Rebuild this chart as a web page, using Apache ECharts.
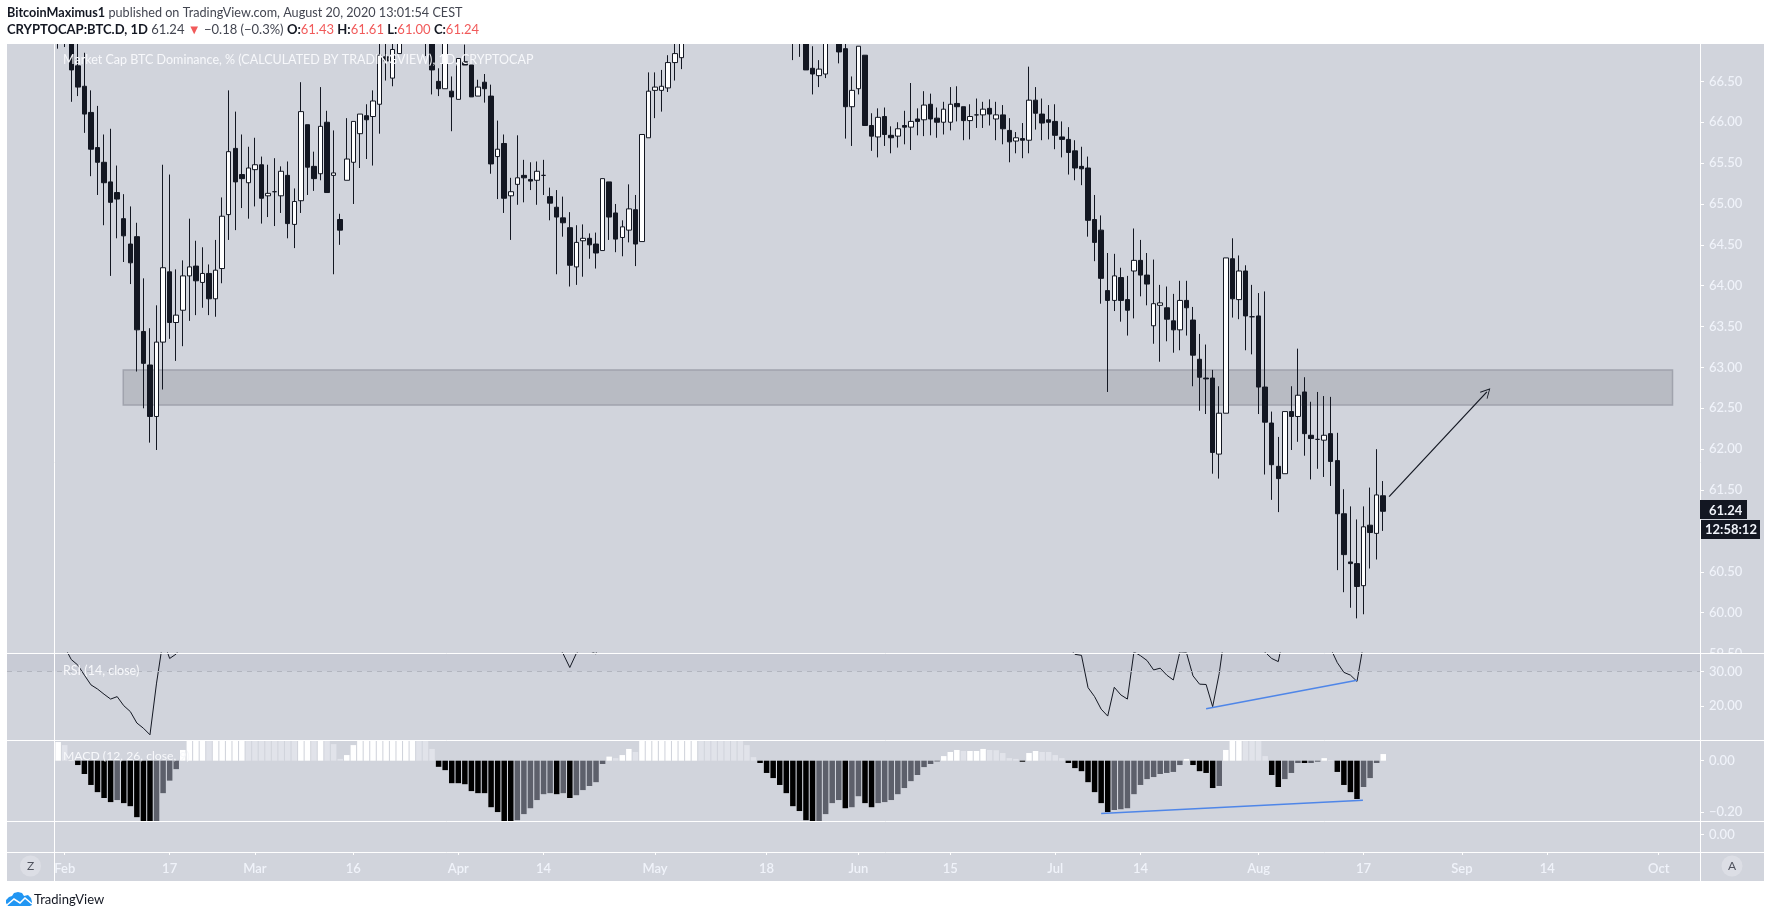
<!DOCTYPE html>
<html>
<head>
<meta charset="utf-8">
<style>html,body{margin:0;padding:0;background:#fff}#c{width:1771px;height:918px}</style>
<script src="https://cdn.jsdelivr.net/npm/echarts@6/dist/echarts.min.js"></script>
</head>
<body>
<div id="c"></div>
<script>
// First row is 31 Jan 2020 (day -1); day 0 is 1 Feb 2020. Rows: open, high, low, close.
const firstDay = -1;
const ohlc = [
[68.0,68.2,66.90,67.6],[67.7,67.9,66.92,67.3],[67.2,67.4,66.25,66.64],[66.69,67.05,66.32,66.43],[66.44,66.85,65.87,66.10],
[66.12,66.39,65.34,65.67],[65.69,66.20,65.11,65.51],[65.51,65.85,64.74,65.26],[65.27,65.92,64.12,65.02],[65.14,65.47,64.58,65.06],
[64.82,65.12,64.29,64.61],[64.51,64.97,64.02,64.28],[64.60,64.77,62.95,63.46],[63.44,64.09,62.50,63.05],[63.03,63.48,62.08,62.40],
[62.40,63.76,61.99,63.31],[63.31,65.48,62.73,64.22],[64.17,65.36,63.35,63.55],[63.55,64.20,63.08,63.64],[63.70,64.31,63.26,64.12],
[64.12,64.82,63.57,64.23],[64.24,64.55,63.64,64.06],[64.04,64.47,63.73,64.15],[64.15,64.26,63.64,63.84],[63.84,64.56,63.62,64.19],
[64.21,65.08,64.03,64.85],[64.87,66.39,64.56,65.64],[65.68,66.13,64.68,65.27],[65.36,65.85,64.95,65.31],[65.26,65.70,64.82,65.44],
[65.42,65.81,64.97,65.48],[65.48,65.58,64.76,65.07],[65.10,65.48,64.84,65.13],[65.15,65.56,64.73,65.15],[65.10,65.46,64.89,65.40],
[65.35,65.52,64.58,64.76],[64.75,65.19,64.46,65.03],[65.04,66.49,64.89,66.13],[65.97,65.97,65.11,65.45],[65.46,65.64,65.16,65.31],
[65.37,66.43,65.29,65.95],[66.00,66.14,65.14,65.14],[65.35,65.90,64.14,65.38],[64.81,64.88,64.50,64.68],[65.29,66.05,65.29,65.55],
[65.51,66.01,65.00,66.01],[65.86,66.10,65.44,66.10],[66.08,66.22,65.55,66.03],[66.07,66.39,65.47,66.26],[66.22,67.10,65.86,66.82],
[66.80,67.10,66.51,66.75],[66.54,67.05,66.44,66.89],[66.84,67.30,66.84,67.20],[67.2,67.9,67.1,67.7],[67.7,68.3,67.5,68.0],
[68.0,68.3,67.4,67.6],[67.6,67.7,66.81,67.2],[67.2,67.3,66.34,66.64],[66.50,66.66,66.32,66.41],[66.41,67.2,66.41,67.1],
[66.38,66.56,65.89,66.31],[66.28,66.78,66.28,66.78],[66.74,66.95,66.70,66.70],[66.70,66.70,66.31,66.31],[66.32,66.52,66.32,66.43],
[66.49,66.59,66.24,66.41],[66.32,66.46,65.37,65.49],[65.58,66.02,65.06,65.67],[65.74,65.85,64.89,65.07],[65.10,65.32,64.56,65.15],
[65.24,65.84,64.99,65.32],[65.35,65.54,65.02,65.32],[65.30,65.51,65.17,65.28],[65.29,65.52,64.99,65.40],[65.35,65.54,65.11,65.35],
[65.09,65.20,64.80,65.01],[64.96,65.17,64.14,64.84],[64.83,65.09,64.60,64.77],[64.71,64.90,63.99,64.25],[64.23,64.74,64.01,64.53],
[64.55,64.75,64.11,64.58],[64.58,64.64,64.33,64.50],[64.51,64.65,64.21,64.40],[64.43,65.31,64.43,65.31],[65.27,65.27,64.56,64.84],
[64.89,65.00,64.41,64.57],[64.59,64.80,64.36,64.72],[64.68,65.24,64.53,64.94],[64.93,65.11,64.24,64.51],[64.54,65.85,64.54,65.85],
[65.81,66.61,65.81,66.38],[66.39,66.61,66.05,66.43],[66.39,66.64,66.13,66.44],[66.42,66.82,66.37,66.73],[66.73,67.0,66.51,66.84],
[66.79,67.15,66.65,67.05],[67.1,67.6,67.0,67.4],[67.4,67.9,67.3,67.7],[67.7,68.1,67.5,67.9],[67.9,68.1,67.4,67.6],
[67.6,68.2,67.5,68.0],[68.0,68.4,67.9,68.2],[68.2,68.4,67.7,67.9],[67.9,68.5,67.8,68.3],[68.3,68.7,68.1,68.5],
[68.5,68.6,68.0,68.2],[68.2,68.4,67.8,68.0],[68.0,68.5,67.9,68.3],[68.3,68.4,67.7,67.9],[67.9,68.0,67.4,67.6],
[67.6,67.8,67.2,67.4],[67.4,67.6,67.1,67.3],[67.3,67.6,66.76,67.4],[67.4,67.5,66.80,67.2],[67.2,67.4,66.64,66.64],
[66.66,66.93,66.34,66.59],[66.57,66.76,66.43,66.65],[66.59,67.2,66.54,67.1],[67.1,67.6,67.0,67.4],[67.3,67.5,66.72,66.86],
[66.90,67.0,65.80,66.19],[66.19,66.56,65.71,66.39],[66.41,66.93,66.34,66.93],[66.82,66.82,65.96,65.96],[65.96,66.11,65.65,65.83],
[65.82,66.17,65.57,66.06],[66.07,66.18,65.71,65.85],[65.84,65.95,65.62,65.81],[65.83,66.00,65.69,65.92],[65.96,66.14,65.73,65.94],
[65.94,66.48,65.66,66.01],[66.04,66.17,65.84,66.01],[66.03,66.38,65.83,66.21],[66.22,66.35,65.84,66.04],[66.05,66.18,65.81,66.00],
[66.00,66.25,65.85,66.16],[66.00,66.43,65.90,66.22],[66.23,66.44,66.01,66.19],[66.19,66.19,65.78,66.02],[66.02,66.22,65.79,66.07],
[66.09,66.29,65.93,66.09],[66.09,66.25,65.93,66.16],[66.17,66.28,65.96,66.10],[66.04,66.25,65.78,66.09],[66.09,66.21,65.73,65.92],
[65.90,66.05,65.51,65.76],[65.77,65.88,65.62,65.81],[65.80,65.99,65.56,65.78],[65.78,66.68,65.62,66.27],[66.27,66.43,65.91,66.11],
[66.10,66.29,65.78,65.99],[66.03,66.21,65.79,66.00],[66.01,66.22,65.67,65.84],[65.82,66.01,65.57,65.79],[65.79,65.94,65.36,65.63],
[65.65,65.78,65.29,65.44],[65.46,65.70,65.23,65.43],[65.44,65.58,64.60,64.80],[64.81,65.11,64.30,64.53],[64.68,64.86,63.78,64.09],
[63.94,64.40,62.70,63.82],[63.82,64.39,63.69,64.12],[64.10,64.22,63.56,63.82],[63.83,64.12,63.39,63.70],[64.18,64.70,63.60,64.31],
[64.31,64.56,63.87,64.13],[64.13,64.40,63.76,64.02],[63.51,64.32,63.29,63.78],[63.76,64.01,63.07,63.79],[63.73,63.99,63.32,63.59],
[63.57,63.90,63.18,63.46],[63.46,64.06,63.21,63.82],[63.82,64.06,63.39,63.73],[63.58,63.74,62.77,63.15],[63.10,63.41,62.47,62.88],
[62.87,63.28,62.43,62.86],[62.87,62.97,61.70,61.96],[61.94,62.77,61.64,62.44],[62.44,64.34,62.44,64.34],[64.33,64.58,63.61,63.84],
[63.83,64.37,63.59,64.18],[64.18,64.25,63.21,63.63],[63.62,64.01,63.16,63.62],[63.63,63.91,62.43,62.76],[62.76,63.93,61.69,62.33],
[62.32,62.46,61.38,61.81],[61.79,62.15,61.23,61.64],[61.70,62.46,61.70,62.46],[62.46,62.77,61.99,62.40],[62.40,63.23,62.09,62.66],
[62.70,62.88,61.92,62.19],[62.17,62.58,61.63,62.13],[62.12,62.70,61.76,62.12],[62.11,62.65,61.66,62.17],[62.19,62.64,61.55,61.85],
[61.86,62.20,60.52,61.21],[61.21,61.51,60.25,60.71],[60.62,61.30,60.06,60.60],[60.60,61.14,59.93,60.32],[60.33,61.30,59.98,61.05],
[61.07,61.53,60.54,60.98],[60.97,62.00,60.65,61.44],[61.43,61.61,61.00,61.24]
];
const rsi = [
40,37,33.4,31.8,28.9,26.1,24.9,23.4,22.0,22.7,
20.1,18.4,15.1,13.6,11.7,26.6,39,33.7,35.0,38,
41,40,42,41,43,47,53,50,49,51,
51,49,49,49,50,47,48,55,52,51,
54,49,48,42,48,52,53,52,54,59,
58,60,62,65,68,64,60,57,55,63,
54,58,60,54,55,54,48,49,44,44,
45,45,44,45,44,42,38,35.0,31.1,35.2,
37,36,35.0,45,41,38,39,42,38,50,
54,55,55,57,58,60,62,64,65,62,
65,67,63,66,68,64,61,63,58,54,
52,51,52,50,45,44,44,52,55,48,
41,44,50,40,39,42,40,40,41,42,
43,43,45,43,43,44,45,45,43,43,
44,44,44,43,42,40,41,41,46,44,
42,42,40,39,37,34.9,34.6,25.3,22.7,19.1,
17.1,25.4,23.2,22.0,35.6,34.5,33.1,30.4,30.9,28.9,
27.5,35.6,35.4,28.7,26.3,26.2,19.8,29.4,43,40,
42,39,39,36.5,35.5,33.7,32.8,42,42,44,
41,41,41,41,36.5,32.5,29.7,28.9,27.1,38,
38,41,40
];
const macd = [
.073,.061,.002,-.017,-.052,-.095,-.123,-.146,-.162,-.154,
-.166,-.178,-.221,-.25,-.25,-.25,-.127,-.078,-.033,.042,
.1,.1,.1,.1,.1,.1,.1,.1,.1,.1,
.1,.1,.1,.1,.1,.1,.1,.1,.1,.1,
.1,.1,.065,.007,.022,.061,.1,.1,.1,.1,
.1,.1,.1,.1,.1,.1,.1,.046,-.024,-.037,
-.088,-.088,-.092,-.119,-.127,-.127,-.182,-.201,-.25,-.25,
-.233,-.209,-.186,-.154,-.131,-.127,-.131,-.127,-.146,-.135,
-.115,-.099,-.084,-.013,.016,.010,.022,.046,.034,.1,
.1,.1,.1,.1,.1,.1,.1,.1,.1,.1,
.1,.1,.1,.1,.1,.061,.014,-.009,-.048,-.068,
-.095,-.127,-.178,-.197,-.233,-.25,-.25,-.209,-.166,-.154,
-.186,-.182,-.139,-.166,-.182,-.166,-.162,-.154,-.131,-.107,
-.080,-.056,-.025,-.013,-.003,.018,.034,.042,.038,.038,
.038,.046,.042,.041,.030,.010,.007,-.004,.030,.038,
.034,.034,.022,.010,-.009,-.029,-.041,-.084,-.123,-.166,
-.201,-.193,-.190,-.186,-.131,-.095,-.072,-.064,-.052,-.048,
-.044,-.017,.007,-.017,-.041,-.048,-.107,-.099,.042,.1,
.1,.1,.1,.1,.018,-.056,-.103,-.072,-.048,-.009,
-.009,-.009,-.004,.010,.003,-.044,-.095,-.123,-.150,-.103,
-.068,-.009,.026
];
// W rising above zero, L falling above zero, K falling below zero, G rising below zero
const macdShade = [
"WLW","KKKKKKGKKKKKG","GGG","W",
"WWWLWWWWWLLLLLLLLWWLWLLLWWWWWWWWWWWLLL",
"KKKKKKKKKKKKGGGGGGKGKGGGGG",
"WLWWLWWWWWWWWWLLLLLLLLL",
"KKKKKKKKKGGGGKGGKKGGGGGGGGGG",
"WWWLWWWLLLLLKWWLLLL",
"KKKKKKKGGGGGGGGGGG",
"WKKKKGWWWLLLL","KKGGGKGGWLKKKKGGGW"
].join("").split("");
const dayTicks = [0,16,29,44,60,73,90,107,121,135,151,164,182,198,213,226,243];
const dayLabels = ["Feb","17","Mar","16","Apr","14","May","18","Jun","15","Jul","14","Aug","17","Sep","14","Oct"];
const priceTicks = [59.5,60,60.5,61,61.5,62,62.5,63,63.5,64,64.5,65,65.5,66,66.5];
const rsiTicks = [20,30];
const macdTicks = [-0.2,0];
const zoneBox = [[8.93,62.97],[245.1,62.54]];
const arrowLine = [[201.9,61.42],[216.8,62.70]];
const rsiTrend = [[174,19.24],[197,27.4]];
const macdTrend = [[158,-.2065],[197.9,-.155]];
const lastPrice = "61.24", countdown = "12:58:12";

const PANEL="#d1d4dc", INK="#131722", TXT="#f0f3fa", FONT="Lato, 'Open Sans', sans-serif";
const L=7,R=1700,T=44,B1=653,B2=740,B3=821,B4=852,B5=881,RE=1764;
const xMin=-8.796,xMax=249.29;

const grids=[[T+1,B1+1],[B1,B2],[B2,B3],[B3,B4]].map(p=>({left:L,width:R-L,top:p[0],height:p[1]-p[0]}));
const xAxes=grids.map((g,i)=>({
  type:'value',gridIndex:i,min:xMin,max:xMax,
  splitLine:{show:false},
  axisLine:{show:false,onZero:false},
  axisTick:i===3?{show:true,length:3,lineStyle:{color:'#fff'},customValues:dayTicks}:{show:false},
  axisLabel:i===3?{show:true,customValues:dayTicks,margin:10,color:TXT,fontFamily:FONT,fontSize:13,fontWeight:600,
    formatter:v=>dayLabels[dayTicks.indexOf(Math.round(v))]||''}:{show:false}
}));
function yAxis(i,min,max,ticks,pad){return{
  type:'value',gridIndex:i,position:'right',min,max,scale:true,
  splitLine:{show:false},axisLine:{show:false,onZero:false},
  axisTick:{show:true,length:4,lineStyle:{color:'#fff'},customValues:ticks},
  axisLabel:{show:true,customValues:ticks,margin:9,color:TXT,fontFamily:FONT,fontSize:13,fontWeight:500,showMinLabel:true,showMaxLabel:true,padding:[pad,0,0,0],
    formatter:v=>v.toFixed(2).replace('-','\u2212')}
};}
const yAxes=[
  yAxis(0,59.494,66.945,priceTicks,0),
  yAxis(1,10.2,35.28,rsiTicks,3),
  yAxis(2,-0.236,0.081,macdTicks,3),
  yAxis(3,-0.56,0.44,[0],3)
];
const days=ohlc.map((_,i)=>i+firstDay);
const candleData=ohlc.map((r,i)=>[days[i],r[0],r[3],r[2],r[1]]);
const rsiData=rsi.map((v,i)=>[days[i],v]);
const macdData=macd.map((v,i)=>[days[i],v]);
const shadeColor={W:'#ffffff',L:'#e1e3ea',K:'#000000',G:'#5d606b'};

const series=[
 {type:'candlestick',xAxisIndex:0,yAxisIndex:0,data:candleData,barWidth:5,silent:true,clip:true,
  itemStyle:{color:'#ffffff',color0:INK,borderColor:INK,borderColor0:INK,borderWidth:1}},
 {type:'line',xAxisIndex:0,yAxisIndex:0,data:[],z:5,silent:true,
  markArea:{silent:true,itemStyle:{color:'rgba(120,123,134,0.28)',borderColor:'#a0a3ad',borderWidth:1.5},
    data:[[{coord:zoneBox[0]},{coord:zoneBox[1]}]]},
  markLine:{silent:true,animation:false,symbol:['none','path://M12 0L24 20L22.4 21L12 4L1.6 21L0 20Z'],symbolSize:[10,10],
    lineStyle:{color:INK,width:1.2,type:'solid'},label:{show:false},
    data:[[{coord:arrowLine[0]},{coord:arrowLine[1]}]]}},
 {type:'line',xAxisIndex:1,yAxisIndex:1,data:rsiData,showSymbol:false,silent:true,clip:true,z:4,
  lineStyle:{color:INK,width:1},
  markArea:{silent:true,itemStyle:{color:'#c8cbd5'},data:[[{xAxis:xMin,yAxis:30},{xAxis:xMax,yAxis:35.28}]]},
  markLine:{silent:true,symbol:'none',lineStyle:{color:'#b2b5be',type:[5,5],width:1},label:{show:false},data:[{yAxis:30}]}},
 {type:'line',xAxisIndex:1,yAxisIndex:1,data:rsiTrend,showSymbol:false,silent:true,z:5,lineStyle:{color:'#4f86e8',width:1.5}},
 {type:'bar',xAxisIndex:2,yAxisIndex:2,data:macdData,barWidth:5.5,silent:true,clip:true,
  itemStyle:{color:p=>shadeColor[macdShade[p.dataIndex]]}},
 {type:'line',xAxisIndex:2,yAxisIndex:2,data:macdTrend,showSymbol:false,silent:true,z:5,lineStyle:{color:'#4f86e8',width:1.5}},
];
function line(x1,y1,x2,y2){return{type:'line',silent:true,z:20,shape:{x1,y1,x2,y2},style:{stroke:'#fff',lineWidth:1}};}
const bodyFont="12.5px "+FONT;
const richB={fontFamily:"Lato",fontWeight:'bold',fill:INK};
const richN={fontFamily:"Lato",fill:'#434651'};
const graphic=[
 {type:'rect',silent:true,z:-10,shape:{x:L,y:T,width:RE-L,height:B5-T},style:{fill:PANEL}},
 {type:'rect',silent:true,z:18,shape:{x:0,y:0,width:1771,height:T},style:{fill:'#ffffff'}},
 {type:'rect',silent:true,z:19,shape:{x:R+1,y:B1,width:RE-R-1,height:10},style:{fill:PANEL}},
 line(L,B1+.5,RE,B1+.5),line(L,B2+.5,RE,B2+.5),line(L,B3+.5,RE,B3+.5),line(L,B4+.5,RE,B4+.5),
 line(R+.5,T,R+.5,B5),line(54.5,T,54.5,B5),
 {type:'text',silent:true,z:20,x:7,y:13,style:{text:"{b|BitcoinMaximus1} {n|published on TradingView.com, August 20, 2020 13:01:54 CEST}",verticalAlign:'middle',
   rich:{b:{...richB,fontSize:12.65},n:{...richN,fontSize:12.65}}}},
 {type:'text',silent:true,z:20,x:7,y:30,style:{text:"{b|CRYPTOCAP:BTC.D, 1D} {n|61.24} {r|\u25BC} {n|\u22120.18 (\u22120.3%)} {b|O:}{r|61.43} {b|H:}{r|61.61} {b|L:}{r|61.00} {b|C:}{r|61.24}",verticalAlign:'middle',
   rich:{b:{...richB,fontSize:13},n:{...richN,fontSize:13},r:{fontFamily:"Lato",fontSize:13,fill:'#f15a5a'}}}},
 {type:'text',silent:true,z:20,x:63,y:60,style:{text:"Market Cap BTC Dominance, % (CALCULATED BY TRADINGVIEW), 1D, CRYPTOCAP",font:"12.5px "+FONT,fill:'#f7f8fb',verticalAlign:'middle'}},
 {type:'text',silent:true,z:20,x:63,y:671,style:{text:"RSI (14, close)",font:bodyFont,fill:'#f7f8fb',verticalAlign:'middle'}},
 {type:'text',silent:true,z:20,x:63,y:756,style:{text:"MACD (12, 26, close, 9)",font:"12.2px "+FONT,fill:'#f7f8fb',verticalAlign:'middle'}},
 {type:'rect',silent:true,z:20,shape:{x:R,y:500,width:47,height:19},style:{fill:INK}},
 {type:'text',silent:true,z:21,x:1709,y:511,style:{text:lastPrice,font:"bold 13px "+FONT,fill:'#f0f3fa',verticalAlign:'middle'}},
 {type:'rect',silent:true,z:20,shape:{x:R+1,y:520,width:59,height:19},style:{fill:INK}},
 {type:'text',silent:true,z:21,x:1705,y:530,style:{text:countdown,font:"bold 13px "+FONT,fill:'#f0f3fa',verticalAlign:'middle'}},
 {type:'circle',silent:true,z:20,shape:{cx:30.5,cy:866,r:10.5},style:{fill:'#dcdee5'}},
 {type:'text',silent:true,z:21,x:30.5,y:866,style:{text:"Z",font:"12px "+FONT,fill:'#50535e',align:'center',verticalAlign:'middle'}},
 {type:'circle',silent:true,z:20,shape:{cx:1732,cy:866,r:10.5},style:{fill:'#dcdee5'}},
 {type:'text',silent:true,z:21,x:1732,y:866,style:{text:"A",font:"12px "+FONT,fill:'#50535e',align:'center',verticalAlign:'middle'}},
 {type:'polygon',silent:true,z:20,shape:{points:[[6,903],[6,900],[9,897],[12,896],[14,893],[18,892],[22,893],[24,896],[28,895],[31,898],[32,902],[32,905],[30,906],[8,906]]},style:{fill:'#2196f3'}},
 {type:'polyline',silent:true,z:21,shape:{points:[[7,905],[14,899],[20,903],[25,898],[32,904]]},style:{stroke:'#fff',lineWidth:1.6,fill:null}},
 {type:'text',silent:true,z:20,x:34,y:900,style:{text:"TradingView",font:"13px "+FONT,fill:INK,verticalAlign:'middle'}}
];
const chart=echarts.init(document.getElementById('c'),null,{renderer:'canvas',width:1771,height:918});
chart.setOption({animation:false,backgroundColor:'#ffffff',grid:grids,xAxis:xAxes,yAxis:yAxes,series,graphic});
</script>
</body>
</html>
